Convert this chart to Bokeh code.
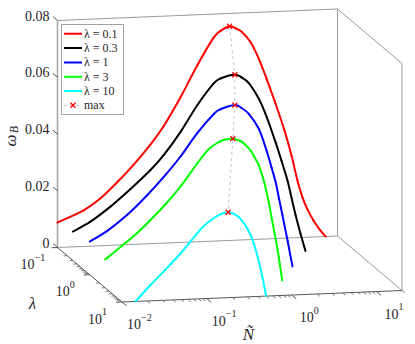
import numpy as np
from bokeh.plotting import figure
from bokeh.models import Range1d
from bokeh.core.properties import value
from bokeh.embed import file_html
from bokeh.resources import INLINE

# ---------------- data ----------------
lam_values = [0.1, 0.3, 1, 3, 10]
lam_names = ["λ = 0.1", "λ = 0.3", "λ = 1", "λ = 3", "λ = 10"]
colors = ["#ff0000", "#000000", "#0000ff", "#00ff00", "#00ffff"]

N_l01 = [0.0100, 0.0203, 0.0321, 0.0509, 0.0787, 0.125, 0.178, 0.282, 0.447, 0.690, 0.836,
         1.067, 1.253, 1.503, 1.884, 2.360, 2.911, 3.715, 4.742, 5.741, 6.745, 7.727, 8.851,
         10.42, 12.27, 14.45]
w_l01 = [0.0088, 0.0127, 0.0167, 0.0222, 0.0280, 0.0350, 0.0412, 0.0512, 0.0623, 0.0716, 0.0740,
         0.0755, 0.0747, 0.0732, 0.0696, 0.0636, 0.0565, 0.0476, 0.0380, 0.0290, 0.0201, 0.0141,
         0.0098, 0.0058, 0.0026, 0.0]

N_l03 = [0.0100, 0.0161, 0.0277, 0.0478, 0.0822, 0.117, 0.186, 0.294, 0.455, 0.550, 0.811,
         0.973, 1.186, 1.556, 1.919, 2.449, 2.877, 3.388, 3.776, 4.207, 4.819, 5.521]
w_l03 = [0.0102, 0.01345, 0.01845, 0.02437, 0.03077, 0.03573, 0.04377, 0.0530, 0.0603, 0.0620,
         0.0631, 0.0621, 0.0600, 0.0543, 0.0479, 0.0388, 0.0322, 0.0251, 0.0190, 0.0130, 0.0062, 0.0]

N_l1 = [0.0100, 0.0161, 0.0277, 0.0475, 0.0746, 0.1175, 0.185, 0.290, 0.348, 0.513, 0.615,
        0.750, 0.984, 1.213, 1.390, 1.549, 1.702, 1.858, 2.004, 2.148, 2.296, 2.455]
w_l1 = [0.01172, 0.01523, 0.02059, 0.0272, 0.03341, 0.04036, 0.04837, 0.05486, 0.05642, 0.05772,
        0.05657, 0.05442, 0.04899, 0.04123, 0.03517, 0.03018, 0.02413, 0.01862, 0.01365, 0.00921,
        0.00459, 0.0]

N_l3 = [0.0100, 0.0152, 0.0239, 0.0343, 0.0492, 0.0773, 0.1216, 0.165, 0.209, 0.255, 0.320,
        0.394, 0.452, 0.518, 0.577, 0.649, 0.741, 0.849, 0.931, 1.067, 1.143, 1.225]
w_l3 = [0.00996, 0.01414, 0.01883, 0.02322, 0.02796, 0.03459, 0.04246, 0.04723, 0.04939, 0.05041,
        0.05065, 0.04976, 0.04828, 0.04627, 0.04392, 0.04086, 0.0355, 0.02778, 0.02128, 0.0118,
        0.00602, 0.0]

N_l10 = [0.0144, 0.0217, 0.0326, 0.0490, 0.0641, 0.0843, 0.1047, 0.1324, 0.1531, 0.1786, 0.208,
         0.237, 0.273, 0.302, 0.337, 0.370, 0.410, 0.453, 0.501]
w_l10 = [0.0, 0.00558, 0.01082, 0.01625, 0.02033, 0.02442, 0.02694, 0.02893, 0.02973, 0.03011,
         0.02947, 0.02827, 0.02608, 0.02391, 0.02086, 0.01728, 0.0123, 0.0066, 0.0]

N_curves = [N_l01, N_l03, N_l1, N_l3, N_l10]
w_curves = [w_l01, w_l03, w_l1, w_l3, w_l10]

N_max = [1.067, 0.811, 0.513, 0.320, 0.1786]
w_max = [0.0755, 0.0631, 0.0577, 0.0507, 0.0301]

z_ticks = [0, 0.02, 0.04, 0.06, 0.08]
z_tick_labels = ["0", "0.02", "0.04", "0.06", "0.08"]
N_ticks = [0.01, 0.1, 1, 10]
N_tick_exps = ["\u22122", "\u22121", "0", "1"]
lam_ticks = [0.1, 1, 10]
lam_tick_exps = ["\u22121", "0", "1"]

N_lim = (0.01, 20.0)
lam_lim = (0.1, 10.0)
z_lim = (0.0, 0.08)

# ---------------- projection (layout) ----------------
O = (57.0, 247.0)
EX = (280.0, -11.5)
EY = (64.5, 54.5)
EZ = 227.0


def proj(N, lam, z):
    N = np.atleast_1d(np.asarray(N, float))
    lam = np.atleast_1d(np.asarray(lam, float))
    z = np.atleast_1d(np.asarray(z, float))
    u = (np.log10(N) - np.log10(N_lim[0])) / (np.log10(N_lim[1]) - np.log10(N_lim[0]))
    v = (np.log10(lam) - np.log10(lam_lim[0])) / (np.log10(lam_lim[1]) - np.log10(lam_lim[0]))
    w = (z - z_lim[0]) / (z_lim[1] - z_lim[0])
    x = O[0] + EX[0] * u + EY[0] * v
    y = O[1] + EX[1] * u + EY[1] * v - EZ * w
    return np.broadcast_arrays(x, y)


W, H = 415, 344
p = figure(width=W, height=H, x_range=Range1d(0, W), y_range=Range1d(H, 0),
           output_backend="svg", toolbar_location=None,
           x_axis_location=None, y_axis_location=None, min_border=0)
p.grid.visible = False
p.outline_line_color = None
p.background_fill_color = "white"

FONT = value("Liberation Serif")
TXT = "#262626"
BOX = "#9a9a9a"
AXC = "#555555"

# ---------------- box edges ----------------
n0, n1 = N_lim
l0, l1 = lam_lim
z0, z1 = z_lim
box_edges = [
    ((n0, l0, z0), (n1, l0, z0)),
    ((n1, l0, z0), (n1, l1, z0)),
    ((n0, l0, z1), (n1, l0, z1)),
    ((n1, l0, z0), (n1, l0, z1)),
    ((n1, l0, z1), (n1, l1, z1)),
    ((n1, l1, z0), (n1, l1, z1)),
]
for a, b in box_edges:
    xa, ya = proj(*a)
    xb, yb = proj(*b)
    p.line([xa[0], xb[0]], [ya[0], yb[0]], line_color=BOX, line_width=1)

xa, ya = proj(n0, l0, z0); xb, yb = proj(n0, l0, z1)
p.line([xa[0], xb[0]], [ya[0], yb[0]], line_color="#a8a8a8", line_width=1.6)
xa, ya = proj(n0, l0, z0); xb, yb = proj(n0, l1, z0)
p.line([xa[0], xb[0]], [ya[0], yb[0]], line_color=AXC, line_width=1)
xa, ya = proj(n0, l1, z0); xb, yb = proj(n1, l1, z0)
p.line([xa[0], xb[0]], [ya[0], yb[0]], line_color=AXC, line_width=1)

# ---------------- ticks ----------------
ey = np.array(EY) / np.hypot(*EY)
ex = np.array(EX) / np.hypot(*EX)

zx, zy = proj(n0, l0, z_ticks)
p.segment(zx, zy, zx - 6 * ey[0], zy - 6 * ey[1], line_color=AXC, line_width=1)
p.text(zx - 8, zy - 5, text=z_tick_labels, text_font=FONT, text_font_size="14px",
       text_color=TXT, text_align="right", text_baseline="middle")

minorN = [m * 10.0 ** e for e in range(-2, 2) for m in range(2, 10) if m * 10.0 ** e <= n1]
mx, my = proj(minorN, l1, z0)
p.segment(mx, my, mx + 3.5 * ey[0], my + 3.5 * ey[1], line_color=AXC, line_width=0.8)
tx, ty = proj(N_ticks, l1, z0)
p.segment(tx, ty, tx + 6 * ey[0], ty + 6 * ey[1], line_color=AXC, line_width=1)


def power_labels(cx, cy, exps):
    wb = 14.0
    for x, y, e in zip(cx, cy, exps):
        we = 5.0 * len(e) + (1.0 if "\u2212" in e else 0.0)
        xs = x + (wb - we) / 2.0
        p.text([xs], [y + 2], text=["10"], text_font=FONT, text_font_size="14px",
               text_color=TXT, text_align="right", text_baseline="middle")
        p.text([xs], [y - 5], text=[e], text_font=FONT, text_font_size="10px",
               text_color=TXT, text_align="left", text_baseline="middle")


power_labels(tx + 17.5, ty + 20, N_tick_exps)

minorL = [m * 10.0 ** e for e in range(-1, 1) for m in range(2, 10)]
mx, my = proj(n0, minorL, z0)
p.segment(mx, my, mx - 3.5 * ex[0], my - 3.5 * ex[1], line_color=AXC, line_width=0.8)
lx, ly = proj(n0, lam_ticks, z0)
p.segment(lx, ly, lx - 6 * ex[0], ly - 6 * ex[1], line_color=AXC, line_width=1)
power_labels(lx - 24.5, ly + 14.5, lam_tick_exps)


# ---------------- curves (smooth Bezier stroke through the read points) ----------------
def smooth_stroke(x, y, color):
    x = np.asarray(x, float); y = np.asarray(y, float)
    xp = np.concatenate([[x[0]], x, [x[-1]]])
    yp = np.concatenate([[y[0]], y, [y[-1]]])
    x0, y0 = xp[1:-2], yp[1:-2]
    x1, y1 = xp[2:-1], yp[2:-1]
    c0x = x0 + (xp[2:-1] - xp[:-3]) / 6.0
    c0y = y0 + (yp[2:-1] - yp[:-3]) / 6.0
    c1x = x1 - (xp[3:] - xp[1:-2]) / 6.0
    c1y = y1 - (yp[3:] - yp[1:-2]) / 6.0
    p.bezier(x0=x0, y0=y0, x1=x1, y1=y1, cx0=c0x, cy0=c0y, cx1=c1x, cy1=c1y,
             line_color=color, line_width=2, line_cap="round")


for lam, Nc, wc, col in zip(lam_values, N_curves, w_curves, colors):
    cx, cy = proj(Nc, lam, wc)
    smooth_stroke(cx, cy, col)

mx, my = proj(N_max, lam_values, w_max)
p.line(mx, my, line_color="#c4c4c4", line_width=1, line_dash="3 3")
p.scatter(mx, my, marker="x", size=7, line_color="#ff0000", line_width=1.3)

# ---------------- axis labels ----------------
p.text([10], [140], text=["ω"], text_font=FONT, text_font_size="17px", text_font_style="italic",
       text_color=TXT, text_align="center", text_baseline="middle", angle=np.pi / 2)
p.text([13.5], [129], text=["B"], text_font=FONT, text_font_size="12px", text_font_style="italic",
       text_color=TXT, text_align="center", text_baseline="middle", angle=np.pi / 2)
p.text([32], [303], text=["λ"], text_font=FONT, text_font_size="17px", text_font_style="italic",
       text_color=TXT, text_align="center", text_baseline="middle")
p.text([248], [334], text=["Ñ"], text_font=FONT, text_font_size="17px", text_font_style="italic",
       text_color=TXT, text_align="center", text_baseline="middle")

# ---------------- legend ----------------
LX0, LY0, LX1, LY1 = 61, 24, 123, 114
p.quad(left=[LX0], right=[LX1], top=[LY0], bottom=[LY1], fill_color="white",
       line_color="#a0a0a0", line_width=1)
row_y = [33.3 + 14.3 * i for i in range(len(lam_values) + 1)]
for i, (name, col) in enumerate(zip(lam_names, colors)):
    p.line([63.5, 81.5], [row_y[i], row_y[i]], line_color=col, line_width=2)
p.text([83.5] * len(lam_names), row_y[:len(lam_names)], text=lam_names, text_font=FONT,
       text_font_size="12px", text_color=TXT, text_align="left", text_baseline="middle")
p.line([63.5, 81.5], [row_y[-1], row_y[-1]], line_color="#c4c4c4", line_width=1, line_dash="3 3")
p.scatter([72.5], [row_y[-1]], marker="x", size=7, line_color="#ff0000", line_width=1.3)
p.text([83.5], [row_y[-1]], text=["max"], text_font=FONT, text_font_size="12px",
       text_color=TXT, text_align="left", text_baseline="middle")

open("out.html", "w").write(file_html(p, INLINE))
